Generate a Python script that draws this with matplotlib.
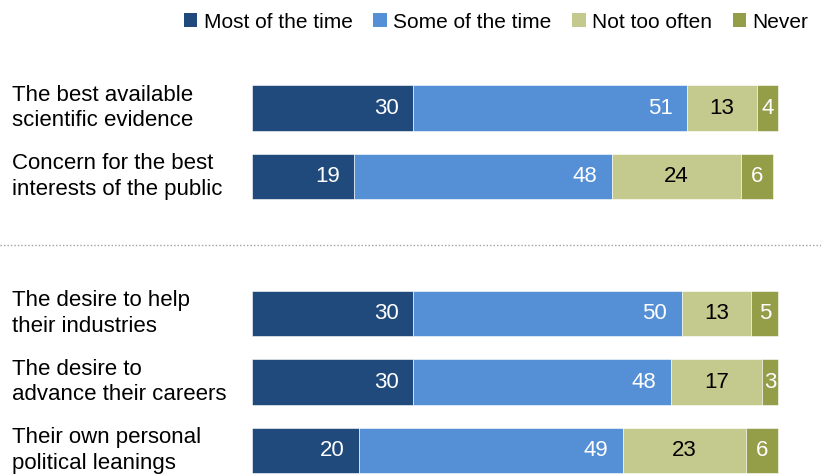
import matplotlib
matplotlib.use("Agg")
import matplotlib.pyplot as plt
from matplotlib.patches import Patch

categories = [
    "The best available\nscientific evidence",
    "Concern for the best\ninterests of the public",
    "The desire to help\ntheir industries",
    "The desire to\nadvance their careers",
    "Their own personal\npolitical leanings",
]
positions = [0, 1, 3, 4, 5]
series_names = ["Most of the time", "Some of the time", "Not too often", "Never"]
most = [30, 19, 30, 30, 20]
some = [51, 48, 50, 48, 49]
not_often = [13, 24, 13, 17, 23]
never = [4, 6, 5, 3, 6]
series = [most, some, not_often, never]
colors = ["#214a7c", "#558fd6", "#c4ca8d", "#949e48"]
text_colors = ["white", "white", "black", "white"]

plt.rcParams['font.family'] = ['Liberation Sans', 'DejaVu Sans']

fig = plt.figure(figsize=(8.21, 4.74), dpi=100)
ax = fig.add_axes([0, 0, 1, 1])
px_per_unit = 5.37
ax.set_xlim(-252 / px_per_unit, (821 - 252) / px_per_unit)
ax.set_ylim(5.343, -1.577)
ax.axis("off")

fs = 16
left = [0] * len(positions)
for k, vals in enumerate(series):
    ax.barh(positions, vals, left=left, height=0.67, color=colors[k],
            edgecolor="white", linewidth=0.4)
    for i, v in enumerate(vals):
        if k < 2:
            ax.text(left[i] + v - 2.7, positions[i], str(v), ha="right", va="center",
                    color=text_colors[k], fontsize=fs)
        else:
            ax.text(left[i] + v / 2, positions[i], str(v), ha="center", va="center",
                    color=text_colors[k], fontsize=fs)
    left = [l + v for l, v in zip(left, vals)]

for p, c in zip(positions, categories):
    ax.text(-240 / px_per_unit, p, c, ha="left", va="center", fontsize=fs,
            linespacing=1.28, color="black")

ax.axhline(2, color="#a0a0a0", linestyle=(0, (1, 1.5)), linewidth=1)

handles = [Patch(facecolor=c, edgecolor="none") for c in colors]
fig.legend(handles, series_names, loc="upper right", bbox_to_anchor=(1.0, 1.0),
           ncol=4, frameon=False, fontsize=15, handlelength=0.65, handleheight=0.65,
           handletextpad=0.3, columnspacing=1.0, borderaxespad=0.2)

fig.savefig("out.png", dpi=100)
